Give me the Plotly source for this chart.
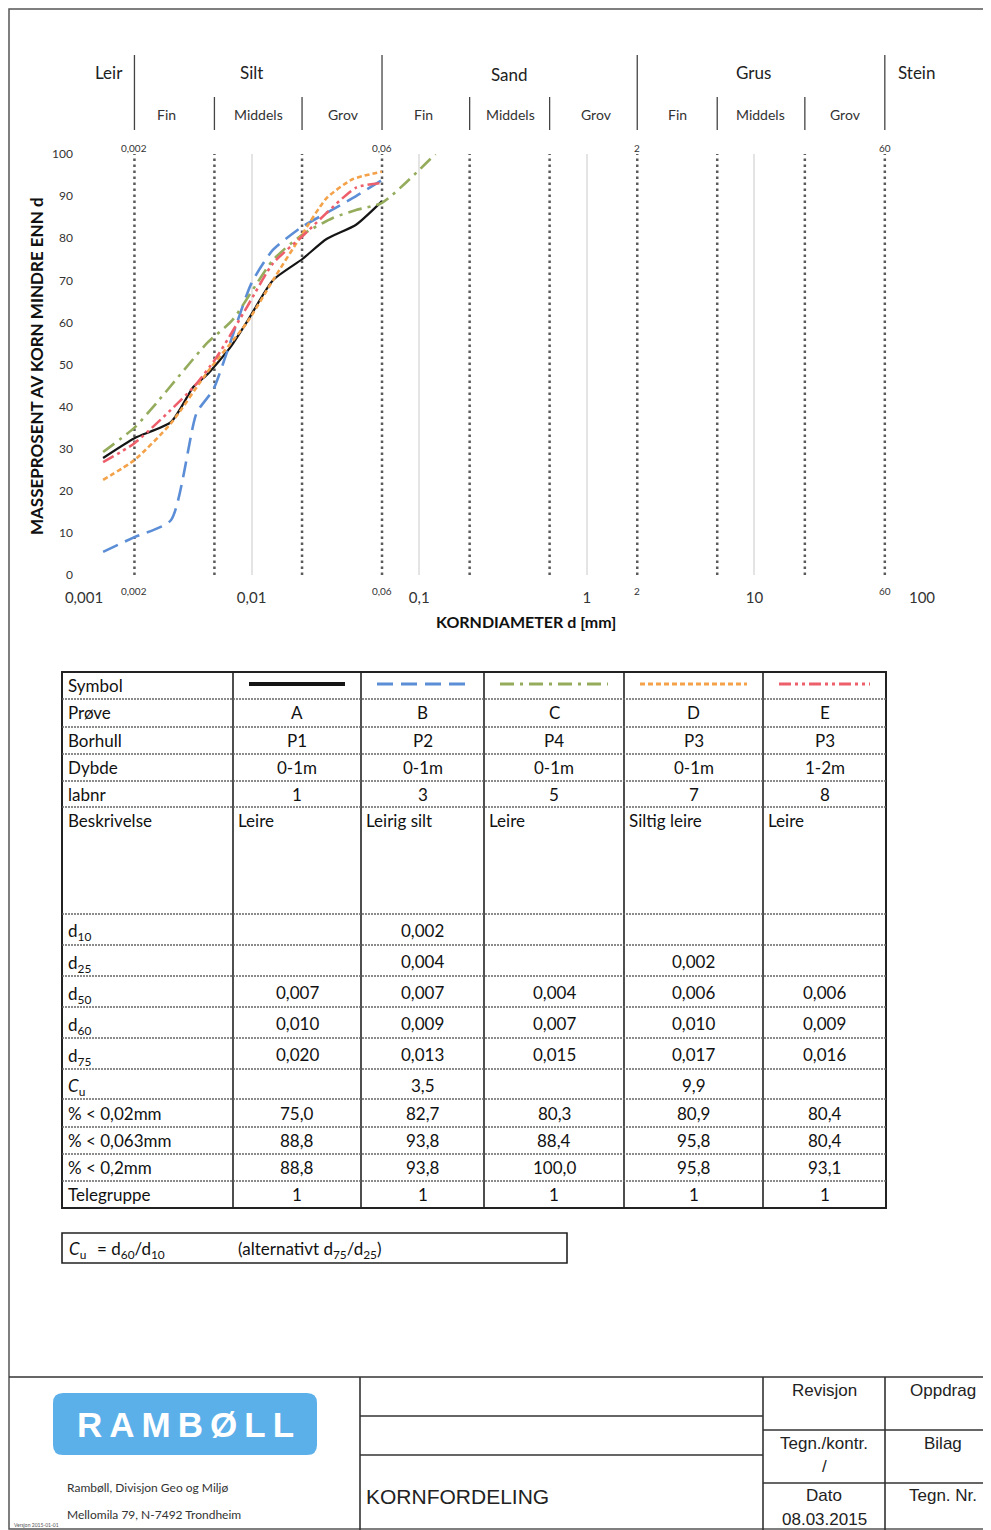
import math
import plotly.graph_objects as go

# page is placed by the browser 8px from the top-left corner (body margin)
OFF = 8
W, H = 991 - OFF, 1530 - OFF

# ---------------- chart data ----------------
dA = [0.0013, 0.002, 0.0033, 0.0045, 0.0054, 0.0075, 0.0095, 0.0134, 0.02, 0.028, 0.042, 0.06]
vA = [27.8, 32.5, 36.3, 44.7, 47.5, 54.2, 60.5, 70.0, 75.0, 79.8, 83.2, 88.8]

dB = [0.0013, 0.002, 0.0033, 0.0047, 0.0059, 0.0071, 0.0100, 0.0134, 0.02, 0.028, 0.04, 0.06]
vB = [5.5, 9.0, 13.0, 38.5, 44.0, 52.7, 69.4, 77.2, 82.7, 86.0, 89.5, 93.8]

dC = [0.0013, 0.002, 0.0027, 0.0054, 0.0077, 0.0134, 0.02, 0.0305, 0.042, 0.06, 0.125]
vC = [29.2, 35.0, 40.8, 55.0, 60.6, 74.8, 80.8, 84.8, 86.7, 88.4, 100.0]

dD = [0.0013, 0.002, 0.0033, 0.0054, 0.0094, 0.0134, 0.02, 0.028, 0.04, 0.06]
vD = [22.6, 27.3, 36.0, 48.0, 60.0, 70.0, 80.9, 89.5, 94.0, 95.8]

dE = [0.0013, 0.002, 0.0045, 0.0062, 0.0094, 0.0134, 0.02, 0.042, 0.06]
vE = [26.8, 31.3, 44.6, 51.8, 63.7, 74.0, 80.4, 92.0, 93.1]

series_names = ["A", "B", "C", "D", "E"]
series_colors = ["#151515", "#5b8ed6", "#94ac5c", "#f3a24a", "#ee5f6c"]
series_dash = ["solid", "16px,8px", "14px,6px,3px,6px", "5px,3px", "12px,4px,3px,4px,3px,4px"]

x_tickvals = [0.001, 0.01, 0.1, 1, 10, 100]
x_ticktext = ["0,001", "0,01", "0,1", "1", "10", "100"]
y_tickvals = [0, 10, 20, 30, 40, 50, 60, 70, 80, 90, 100]

boundary_major = [0.002, 0.06, 2, 60]
boundary_major_text = ["0,002", "0,06", "2", "60"]
boundary_minor = [0.006, 0.02, 0.2, 0.6, 6, 20]

fraction_names = ["Leir", "Silt", "Sand", "Grus", "Stein"]
sub_names = ["Fin", "Middels", "Grov", "Fin", "Middels", "Grov", "Fin", "Middels", "Grov"]

# ---------------- table data ----------------
row_labels = ["Symbol", "Prøve", "Borhull", "Dybde", "labnr", "Beskrivelse",
              "d<sub>10</sub>", "d<sub>25</sub>", "d<sub>50</sub>", "d<sub>60</sub>", "d<sub>75</sub>",
              "<i>C</i><sub>u</sub>", "% < 0,02mm", "% < 0,063mm", "% < 0,2mm", "Telegruppe"]
prove = ["A", "B", "C", "D", "E"]
borhull = ["P1", "P2", "P4", "P3", "P3"]
dybde = ["0-1m", "0-1m", "0-1m", "0-1m", "1-2m"]
labnr = ["1", "3", "5", "7", "8"]
beskrivelse = ["Leire", "Leirig silt", "Leire", "Siltig leire", "Leire"]
d10 = ["", "0,002", "", "", ""]
d25 = ["", "0,004", "", "0,002", ""]
d50 = ["0,007", "0,007", "0,004", "0,006", "0,006"]
d60 = ["0,010", "0,009", "0,007", "0,010", "0,009"]
d75 = ["0,020", "0,013", "0,015", "0,017", "0,016"]
cu = ["", "3,5", "", "9,9", ""]
p_002 = ["75,0", "82,7", "80,3", "80,9", "80,4"]
p_0063 = ["88,8", "93,8", "88,4", "95,8", "80,4"]
p_02 = ["88,8", "93,8", "100,0", "95,8", "93,1"]
telegruppe = ["1", "1", "1", "1", "1"]

# ---------------- helpers (layout only, window pixels -> paper) ----------------
def PX(x):
    return (x - OFF) / W

def PY(y):
    return 1 - (y - OFF) / H

CAL = "Lato, 'Open Sans', sans-serif"
ARI = "'Liberation Sans', Arial, sans-serif"

fig = go.Figure()
shapes = []
ann = []

def text(x, y, t, size, family=CAL, color="#111", xanchor="center", yanchor="middle", **kw):
    ann.append(dict(x=PX(x), y=PY(y), xref="paper", yref="paper", text=t, showarrow=False,
                    xanchor=xanchor, yanchor=yanchor,
                    font=dict(family=family, size=size, color=color), **kw))

# dotted boundaries in plot
for b in boundary_major + boundary_minor:
    fig.add_trace(go.Scatter(x=[b, b], y=[0, 100], mode="lines",
                             line=dict(color="#5a5a5a", width=2.5, dash="2.5px,3.5px"),
                             hoverinfo="skip", showlegend=False))

# curves
for name, d, v, c, ds in zip(series_names, [dA, dB, dC, dD, dE], [vA, vB, vC, vD, vE],
                             series_colors, series_dash):
    fig.add_trace(go.Scatter(x=d, y=v, mode="lines", name=name,
                             line=dict(color=c, width=2.6 if name != "A" else 2.2, dash=ds,
                                       shape="spline", smoothing=0.6),
                             showlegend=False))

# small boundary labels above/below plot
for b, t in zip(boundary_major, boundary_major_text):
    for yy in (148, 591):
        ann.append(dict(x=math.log10(b), xref="x", y=PY(yy), yref="paper", text=t,
                        showarrow=False, xanchor="center", yanchor="middle",
                        font=dict(family=CAL, size=10, color="#333")))

# header: fraction divisions
for b in boundary_major:
    shapes.append(dict(type="line", xref="x", yref="paper", x0=b, x1=b,
                       y0=PY(55), y1=PY(130), line=dict(color="#444", width=1.3)))
for b in boundary_minor:
    shapes.append(dict(type="line", xref="x", yref="paper", x0=b, x1=b,
                       y0=PY(97), y1=PY(130), line=dict(color="#444", width=1.3)))

frac_x = [109, 251, 509, 753, 916]
frac_y = [72, 72, 75, 73, 73]
for t, x, y in zip(fraction_names, frac_x, frac_y):
    text(x, y, t, 17, color="#222")
sub_x = [166, 258, 343, 423, 510, 596, 677, 760, 845]
for t, x in zip(sub_names, sub_x):
    text(x, 115, t, 14, color="#333")

# axis titles
text(36, 366, "<b>MASSEPROSENT AV KORN MINDRE ENN d</b>", 17, textangle=-90)
text(526, 621, "<b>KORNDIAMETER d [mm]</b>", 16)

# ---------------- table ----------------
row_b = [672, 699, 727, 754, 781, 807, 914, 945, 976, 1007, 1038, 1069, 1099, 1127, 1154, 1181, 1208]
col_b = [62, 233, 361, 484, 624, 763, 886]
shapes.append(dict(type="rect", xref="paper", yref="paper", x0=PX(col_b[0]), x1=PX(col_b[-1]),
                   y0=PY(row_b[0]), y1=PY(row_b[-1]), line=dict(color="#222", width=2)))
for cx in col_b[1:-1]:
    shapes.append(dict(type="line", xref="paper", yref="paper", x0=PX(cx), x1=PX(cx),
                       y0=PY(row_b[0]), y1=PY(row_b[-1]), line=dict(color="#222", width=1.6)))
for ry in row_b[1:-1]:
    shapes.append(dict(type="line", xref="paper", yref="paper", x0=PX(col_b[0]), x1=PX(col_b[-1]),
                       y0=PY(ry), y1=PY(ry), line=dict(color="#666", width=1.5, dash="2px,1px")))

# symbol samples
for i, (c, ds) in enumerate(zip(series_colors, series_dash)):
    x0 = col_b[i + 1] + 16
    x1 = col_b[i + 2] - 16
    shapes.append(dict(type="line", xref="paper", yref="paper", x0=PX(x0), x1=PX(x1),
                       y0=PY(684), y1=PY(684),
                       line=dict(color=c, width=4 if i == 0 else 3, dash=ds)))

row_values = [None, prove, borhull, dybde, labnr, None, d10, d25, d50, d60, d75, cu,
              p_002, p_0063, p_02, telegruppe]
for r, lab in enumerate(row_labels):
    ytop, ybot = row_b[r], row_b[r + 1]
    yc = (ytop + ybot) / 2
    if r == 5:
        yc = ytop + 14
    if 6 <= r <= 11:
        yc = (ytop + ybot) / 2 + 1
    text(col_b[0] + 4, yc + (2 if 6 <= r <= 11 else 0), lab, 17, xanchor="left")
    vals = row_values[r]
    if vals is not None:
        for i, v in enumerate(vals):
            if v == "":
                continue
            xc = (col_b[i + 1] + col_b[i + 2]) / 2
            text(xc, yc, v, 17)
for i, v in enumerate(beskrivelse):
    text(col_b[i + 1] + 3, row_b[5] + 14, v, 17, xanchor="left")

# Cu box
shapes.append(dict(type="rect", xref="paper", yref="paper", x0=PX(62), x1=PX(567),
                   y0=PY(1233), y1=PY(1263), line=dict(color="#222", width=1.6)))
text(67, 1250, "<i>C</i><sub>u</sub>", 17, xanchor="left")
text(95, 1250, "= d<sub>60</sub>/d<sub>10</sub>", 17, xanchor="left")
text(236, 1250, "(alternativt d<sub>75</sub>/d<sub>25</sub>)", 17, xanchor="left")

# ---------------- page frame and footer ----------------
shapes.append(dict(type="rect", xref="paper", yref="paper", x0=PX(9), x1=PX(990),
                   y0=PY(1529), y1=PY(9), line=dict(color="#555", width=1.5)))
foot_lines = [
    (9, 1377, 991, 1377), (360, 1377, 360, 1530), (763, 1377, 763, 1530), (885, 1377, 885, 1530),
    (360, 1416, 763, 1416), (360, 1455, 763, 1455), (763, 1430, 991, 1430), (763, 1483, 991, 1483),
]
for x0, y0, x1, y1 in foot_lines:
    shapes.append(dict(type="line", xref="paper", yref="paper", x0=PX(x0), x1=PX(x1),
                       y0=PY(y0), y1=PY(y1), line=dict(color="#333", width=1.6)))

# logo box (rounded)
lx0, lx1, ly0, ly1, rr = 53, 317, 1393, 1455, 10
pth = (f"M {PX(lx0+rr)},{PY(ly0)} L {PX(lx1-rr)},{PY(ly0)} Q {PX(lx1)},{PY(ly0)} {PX(lx1)},{PY(ly0+rr)} "
       f"L {PX(lx1)},{PY(ly1-rr)} Q {PX(lx1)},{PY(ly1)} {PX(lx1-rr)},{PY(ly1)} "
       f"L {PX(lx0+rr)},{PY(ly1)} Q {PX(lx0)},{PY(ly1)} {PX(lx0)},{PY(ly1-rr)} "
       f"L {PX(lx0)},{PY(ly0+rr)} Q {PX(lx0)},{PY(ly0)} {PX(lx0+rr)},{PY(ly0)} Z")
shapes.append(dict(type="path", xref="paper", yref="paper", path=pth,
                   fillcolor="#5cb0ea", line=dict(width=0)))
text(185, 1424, "<b>R\u2009A\u2009M\u2009B\u2009Ø\u2009L\u2009L</b>", 35, family=ARI, color="white")
text(65, 1487, "Rambøll, Divisjon Geo og Miljø", 12, color="#333", xanchor="left")
text(65, 1514, "Mellomila 79, N-7492 Trondheim", 12, color="#333", xanchor="left")
text(12, 1525, "Versjon 2015-01-01", 5, color="#555", xanchor="left")

foot_text = [("Revisjon", 824, 1390), ("Oppdrag", 943, 1390), ("Tegn./kontr.", 824, 1443),
             ("Bilag", 943, 1443), ("/", 824, 1466), ("Dato", 824, 1495), ("Tegn. Nr.", 943, 1495),
             ("08.03.2015", 824, 1519)]
for t, x, y in foot_text:
    text(x, y, t, 17, family=ARI, color="#222")
text(364, 1496, "KORNFORDELING", 21, family=ARI, color="#222", xanchor="left")

fig.update_layout(
    width=W, height=H, margin=dict(l=0, r=0, t=0, b=0, pad=0, autoexpand=False),
    paper_bgcolor="white", plot_bgcolor="white", showlegend=False,
    xaxis=dict(type="log", range=[-3, 2], domain=[PX(84), PX(922)], automargin=False,
               tickvals=x_tickvals, ticktext=x_ticktext, showgrid=True, gridcolor="#e4e4e4",
               gridwidth=1.5, zeroline=False, showline=False, ticks="",
               tickfont=dict(family=CAL, size=15, color="#333"), ticklabelstandoff=12),
    yaxis=dict(range=[0, 100], domain=[PY(575), PY(154)], tickvals=y_tickvals, automargin=False,
               showgrid=False, zeroline=False, showline=False, ticks="",
               tickfont=dict(family=CAL, size=12, color="#333"), ticklabelstandoff=10),
    shapes=shapes, annotations=ann,
)

fig.write_html("out.html")
